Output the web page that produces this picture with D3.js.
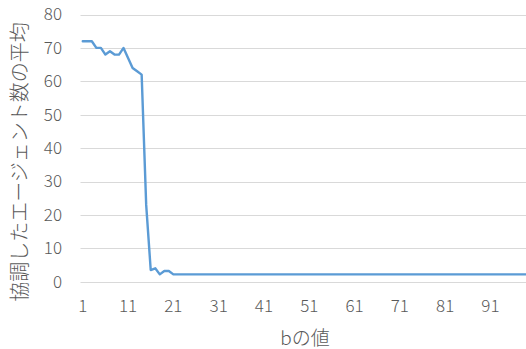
<!DOCTYPE html>
<html>
<head>
<meta charset="utf-8">
<script src="https://cdn.jsdelivr.net/npm/d3@7"></script>
<style>
  html, body { margin: 0; padding: 0; background: #fff; }
  svg { display: block; }
  text { font-family: "Noto Sans CJK JP", "Noto Sans", sans-serif; fill: #595959; font-weight: 300; }
</style>
</head>
<body>
<svg id="chart" width="526" height="349"></svg>
<script>
// b values 1..100
const bValues = d3.range(1, 101);
// average number of cooperating agents for each b
const headValues = [72, 72, 72, 70, 70, 68, 69, 68, 68, 70,
                    67, 64, 63, 62, 23, 3.5, 4, 2.2, 3.2, 3.2];
const tailValue = 2.2;
const avgAgents = bValues.map((b, i) => i < headValues.length ? headValues[i] : tailValue);
const yTicks = [0, 10, 20, 30, 40, 50, 60, 70, 80];
const xTickLabels = [1, 11, 21, 31, 41, 51, 61, 71, 81, 91];

const svg = d3.select("#chart");
const left = 80.5, bandW = 4.53;
const x = d3.scaleBand().domain(bValues).range([left, left + bandW * bValues.length]).padding(0);
const y = d3.scaleLinear().domain([0, 80]).range([281.7, 14.5]);

// horizontal gridlines
svg.append("g").selectAll("line").data(yTicks).join("line")
  .attr("x1", left).attr("x2", left + bandW * bValues.length)
  .attr("y1", d => Math.round(y(d)) + 0.5).attr("y2", d => Math.round(y(d)) + 0.5)
  .attr("stroke", "#d9d9d9").attr("stroke-width", 1);

// y tick labels
const yAxis = d3.axisLeft(y).tickValues(yTicks).tickSize(0).tickPadding(0);
const gy = svg.append("g").attr("transform", "translate(62,0)").call(yAxis);
gy.select(".domain").remove();
gy.selectAll("text").style("font-size", "17px").attr("fill", "#595959")
  .style("font-family", '"Noto Sans CJK JP", sans-serif').style("font-weight", 300);

// x tick labels
const xAxis = d3.axisBottom(x).tickValues(xTickLabels).tickSize(0).tickPadding(0);
const gx = svg.append("g").attr("transform", "translate(0,300)").call(xAxis);
gx.select(".domain").remove();
gx.selectAll("text").style("font-size", "17px").attr("fill", "#595959")
  .style("font-family", '"Noto Sans CJK JP", sans-serif').style("font-weight", 300);

// data line
const line = d3.line()
  .x((d, i) => x(bValues[i]) + x.bandwidth() / 2)
  .y(d => y(d));
svg.append("path").datum(avgAgents)
  .attr("d", line)
  .attr("fill", "none")
  .attr("stroke", "#5b9bd5")
  .attr("stroke-width", 2.4)
  .attr("stroke-linejoin", "round")
  .attr("stroke-linecap", "round");

// axis titles
svg.append("text")
  .attr("x", 305).attr("y", 345)
  .attr("text-anchor", "middle")
  .style("font-size", "19px")
  .text("bの値");

svg.append("text")
  .attr("transform", "translate(27,162) rotate(-90)")
  .attr("text-anchor", "middle")
  .style("font-size", "20px")
  .text("協調したエージェント数の平均");
</script>
</body>
</html>
